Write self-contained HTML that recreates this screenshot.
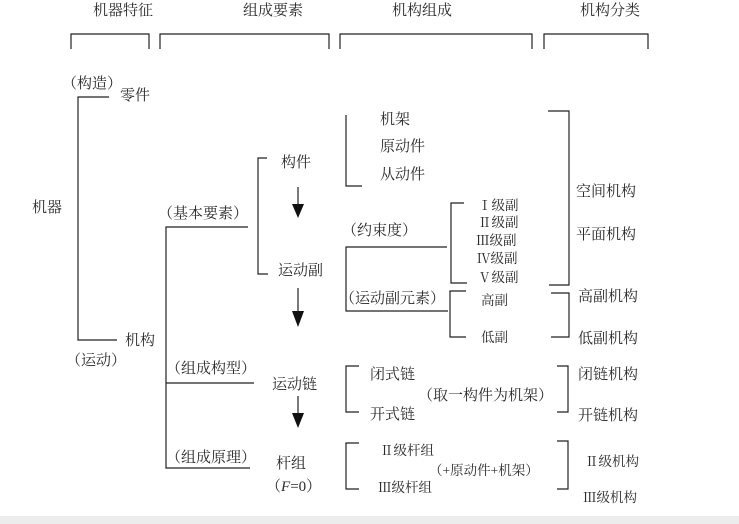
<!DOCTYPE html>
<html><head><meta charset="utf-8"><style>
html,body{margin:0;padding:0;background:#fff;}
svg{display:block;}
text{font-family:"Liberation Serif","Noto Serif CJK SC","Noto Sans CJK SC",serif;fill:#2a2a2a;font-size:15px;}
.s{font-size:13.5px;}
</style></head><body>
<svg width="739" height="524" viewBox="0 0 739 524">
<rect x="0" y="0" width="739" height="524" fill="#fff"/>
<rect x="0" y="516" width="739" height="8" fill="#ececec"/>
<g stroke="#222" stroke-width="1.2" fill="none">
<path d="M71 49V34H149V49"/><path d="M160 49V34H329V49"/><path d="M340 49V34H532V49"/><path d="M544 49V34H648V49"/>
<path d="M109 97H78V340H117"/>
<path d="M248 227H166V468H250"/><path d="M166 383H254"/>
<path d="M267 158H258V274H268"/>
<path d="M346 115V186H362"/>
<path d="M548 111H569V285H549"/>
<path d="M447 247H346V311H448"/>
<path d="M464 203H451V283H467"/>
<path d="M466 291H450V337H466"/>
<path d="M551 293H569V337H551"/>
<path d="M359 366H346V412H359"/>
<path d="M557 366H568V412H557"/>
<path d="M359 443H346V489H359"/>
<path d="M557 441H568V489H557"/>
<path d="M298 187V206"/><path d="M298 288V312"/><path d="M298 396V414"/>
</g>
<g fill="#111">
<polygon points="292,204 304,204 298,218"/>
<polygon points="292,311 304,311 298,327"/>
<polygon points="292,413 304,413 298,428"/>
</g>
<text x="93" y="15">机器特征</text>
<text x="243" y="15">组成要素</text>
<text x="392" y="15">机构组成</text>
<text x="580" y="15">机构分类</text>
<text x="62" y="88">（构造）</text>
<text x="120" y="100">零件</text>
<text x="32" y="212">机器</text>
<text x="125" y="345">机构</text>
<text x="66" y="365">（运动）</text>
<text x="158" y="218">（基本要素）</text>
<text x="166" y="373">（组成构型）</text>
<text x="166" y="462">（组成原理）</text>
<text x="281" y="167">构件</text>
<text x="278" y="275">运动副</text>
<text x="272" y="389">运动链</text>
<text x="276" y="468">杆组</text>
<text x="266" y="491">（<tspan font-style="italic">F</tspan>=0）</text>
<text x="380" y="124">机架</text>
<text x="380" y="151">原动件</text>
<text x="380" y="179">从动件</text>
<text x="342" y="235">（约束度）</text>
<text x="340" y="303">（运动副元素）</text>
<text class="s" x="478" y="210">Ⅰ级副</text>
<text class="s" x="478" y="227">Ⅱ级副</text>
<text class="s" x="476" y="245">Ⅲ级副</text>
<text class="s" x="477" y="263">Ⅳ级副</text>
<text class="s" x="478" y="282">Ⅴ级副</text>
<text class="s" x="481" y="305">高副</text>
<text class="s" x="481" y="342">低副</text>
<text x="576" y="196">空间机构</text>
<text x="576" y="239">平面机构</text>
<text x="578" y="301">高副机构</text>
<text x="578" y="343">低副机构</text>
<text x="370" y="379">闭式链</text>
<text x="370" y="419">开式链</text>
<text x="418" y="400">（取一构件为机架）</text>
<text x="578" y="379">闭链机构</text>
<text x="578" y="420">开链机构</text>
<text class="s" x="380" y="455">Ⅱ级杆组</text>
<text class="s" x="378" y="492">Ⅲ级杆组</text>
<text class="s" x="429" y="475">（+原动件+机架）</text>
<text class="s" x="585" y="466">Ⅱ级机构</text>
<text class="s" x="583" y="502">Ⅲ级机构</text>
</svg>
</body></html>
